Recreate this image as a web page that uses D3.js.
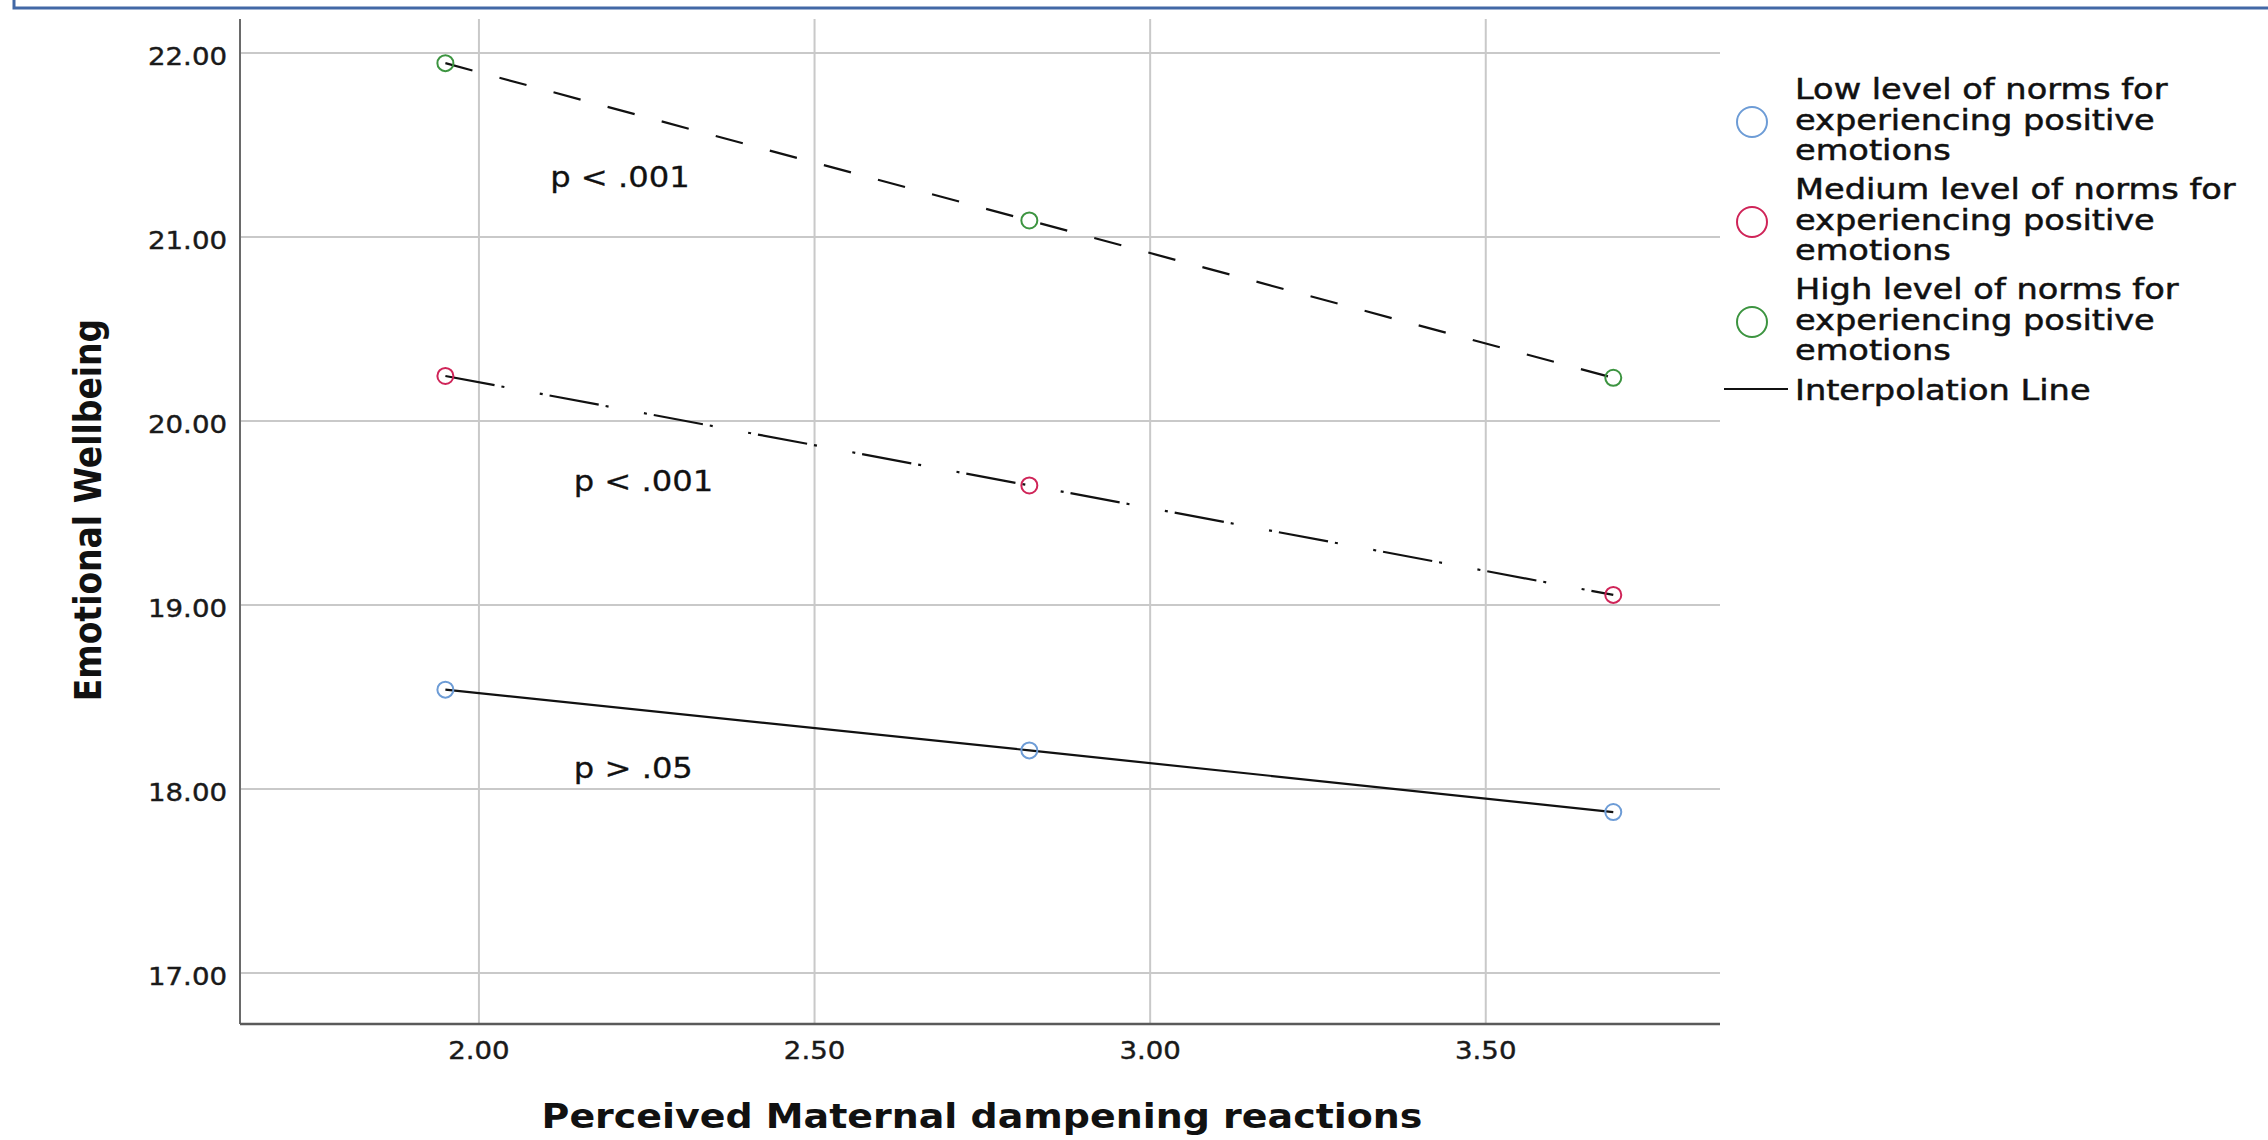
<!DOCTYPE html>
<html>
<head>
<meta charset="utf-8">
<script src="https://cdn.jsdelivr.net/npm/d3@7"></script>
<style>
  html, body { margin: 0; padding: 0; background: #fff; }
  svg { display: block; font-family: "DejaVu Sans", sans-serif; }
</style>
</head>
<body>
<svg id="chart"></svg>
<script>
// ── data ─────────────────────────────────────────────
const xValues      = [1.95, 2.82, 3.69];          // -1SD, mean, +1SD of dampening
const lowValues    = [18.54, 18.21, 17.875];
const mediumValues = [20.245, 19.65, 19.055];
const highValues   = [21.945, 21.09, 20.235];

const xTicks = [2.0, 2.5, 3.0, 3.5];
const yTicks = [17, 18, 19, 20, 21, 22];

const legendLabels = [
  ['Low level of norms for', 'experiencing positive', 'emotions'],
  ['Medium level of norms for', 'experiencing positive', 'emotions'],
  ['High level of norms for', 'experiencing positive', 'emotions']
];
const pLabels = ['p > .05', 'p < .001', 'p < .001'];   // low, medium, high

const xTitle = 'Perceived Maternal dampening reactions';
const yTitle = 'Emotional Wellbeing';

// ── layout ───────────────────────────────────────────
const W = 2268, H = 1140;
const M = { left: 240, right: 1720, top: 19, bottom: 1024 };
const SX = 1.15;   // the source picture is stretched sideways a little

const svg = d3.select('#chart').attr('width', W).attr('height', H);

const x = d3.scaleLinear().domain([1.644, 3.849]).range([M.left, M.right]);
const y = d3.scaleLinear().domain([16.723, 22.185]).range([M.bottom, M.top]);

const series = [
  { values: lowValues,    color: '#6d9cd6', dash: null },
  { values: mediumValues, color: '#cf2458', dash: '50,7,3,36,3,7' },
  { values: highValues,   color: '#3c9440', dash: '28,28' }
];

// frame fragment at the top of the page
svg.append('path')
  .attr('d', `M14,0 V8 H${W}`)
  .attr('fill', 'none').attr('stroke', '#4268a6').attr('stroke-width', 3);

// grid
svg.append('g').selectAll('line').data(yTicks).join('line')
  .attr('x1', M.left).attr('x2', M.right)
  .attr('y1', d => y(d)).attr('y2', d => y(d))
  .attr('stroke', '#c9c9c9').attr('stroke-width', 2);

svg.append('g').selectAll('line').data(xTicks).join('line')
  .attr('x1', d => x(d)).attr('x2', d => x(d))
  .attr('y1', M.top).attr('y2', M.bottom)
  .attr('stroke', '#c9c9c9').attr('stroke-width', 2);

// axes lines
svg.append('line').attr('x1', M.left).attr('x2', M.left)
  .attr('y1', M.top).attr('y2', M.bottom)
  .attr('stroke', '#6a6a6a').attr('stroke-width', 2);
svg.append('line').attr('x1', M.left).attr('x2', M.right)
  .attr('y1', M.bottom).attr('y2', M.bottom)
  .attr('stroke', '#5a5a5a').attr('stroke-width', 2.5);

// tick labels
const fmt = d3.format('.2f');
svg.append('g').selectAll('text').data(yTicks).join('text')
  .attr('transform', d => `translate(227,${y(d) + 12}) scale(${SX},1)`)
  .attr('text-anchor', 'end').attr('font-size', 24).attr('fill', '#1a1a1a')
  .attr('stroke', '#1a1a1a').attr('stroke-width', 0.4)
  .text(fmt);

svg.append('g').selectAll('text').data(xTicks).join('text')
  .attr('transform', d => `translate(${x(d)},1059) scale(${SX},1)`)
  .attr('text-anchor', 'middle').attr('font-size', 24).attr('fill', '#1a1a1a')
  .attr('stroke', '#1a1a1a').attr('stroke-width', 0.4)
  .text(fmt);

// axis titles
svg.append('text')
  .attr('transform', `translate(982,1128) scale(${SX},1)`)
  .attr('text-anchor', 'middle').attr('font-size', 33).attr('font-weight', 'bold')
  .attr('fill', '#111').text(xTitle);

svg.append('text')
  .attr('transform', `translate(101,510) scale(${SX},1) rotate(-90)`)
  .attr('text-anchor', 'middle').attr('font-size', 33).attr('font-weight', 'bold')
  .attr('fill', '#111').text(yTitle);

// interpolation lines
const line = d3.line().x((d, i) => x(xValues[i])).y(d => y(d));
series.forEach(s => {
  svg.append('path').datum(s.values)
    .attr('d', line).attr('fill', 'none')
    .attr('stroke', '#111').attr('stroke-width', 2.2)
    .attr('stroke-dasharray', s.dash);
});

// markers
series.forEach(s => {
  svg.append('g').selectAll('circle').data(s.values).join('circle')
    .attr('cx', (d, i) => x(xValues[i])).attr('cy', d => y(d))
    .attr('r', 8).attr('fill', 'none')
    .attr('stroke', s.color).attr('stroke-width', 2);
});

// p-value annotations (anchored in data space, to the right of the first point)
const pAnchor = [[2.23, 18.06], [2.245, 19.62], [2.21, 21.27]];
pLabels.forEach((t, i) => {
  svg.append('text')
    .attr('transform', `translate(${x(pAnchor[i][0])},${y(pAnchor[i][1])}) scale(${SX},1)`)
    .attr('text-anchor', 'middle').attr('font-size', 28).attr('fill', '#111')
    .attr('stroke', '#111').attr('stroke-width', 0.3)
    .text(t);
});

// legend
const LSX = 1.2;
const lg = svg.append('g').attr('transform', 'translate(1752,0)');
legendLabels.forEach((lines, i) => {
  const top = 99 + i * 100;
  lg.append('circle').attr('cx', 0).attr('cy', top + 23)
    .attr('r', 15).attr('fill', 'none')
    .attr('stroke', series[i].color).attr('stroke-width', 2);
  lines.forEach((l, j) => {
    lg.append('text')
      .attr('transform', `translate(43,${top + j * 30.5}) scale(${LSX},1)`)
      .attr('font-size', 28).attr('fill', '#111')
      .attr('stroke', '#111').attr('stroke-width', 0.5)
      .text(l);
  });
});
lg.append('line').attr('x1', -28).attr('x2', 36).attr('y1', 389).attr('y2', 389)
  .attr('stroke', '#111').attr('stroke-width', 2);
lg.append('text')
  .attr('transform', `translate(43,400) scale(${LSX},1)`)
  .attr('font-size', 28).attr('fill', '#111')
  .attr('stroke', '#111').attr('stroke-width', 0.5)
  .text('Interpolation Line');
</script>
</body>
</html>
